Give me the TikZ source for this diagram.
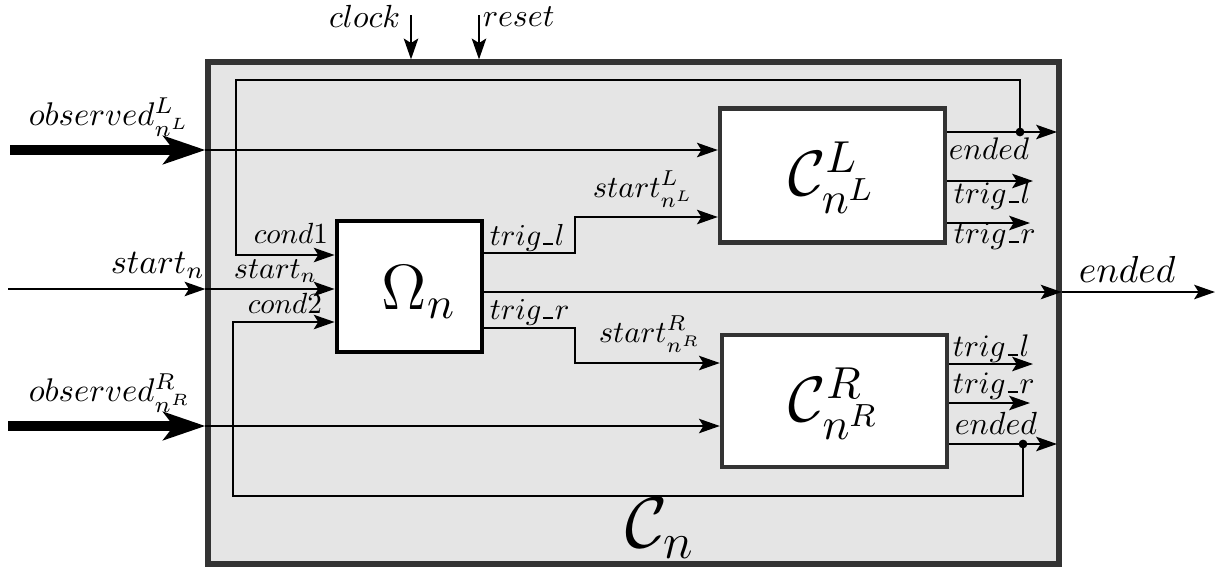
\RequirePackage{fix-cm}
\documentclass[tikz,border=0pt]{standalone}
\usetikzlibrary{arrows.meta}
\definecolor{boxfill}{RGB}{229,229,229}
\definecolor{boxline}{RGB}{51,51,51}
\newcommand{\us}{\mbox{\kern0.06em\rule{0.32em}{0.5pt}\kern0.06em}}
\newcommand{\lb}[2]{\scalebox{#1}{$#2$}}
\begin{document}
\begin{tikzpicture}[x=0.25pt,y=-0.25pt,
  arr/.style={line width=0.55pt,-{Stealth[length=5.2pt,width=3.6pt,inset=1.1pt]}},
  thickarr/.style={line width=2.5pt,-{Stealth[length=10.5pt,width=7pt,inset=2.6pt]}},
  lbl/.style={inner sep=0pt,font=\fontsize{10}{12}\selectfont},
  sub/.style={draw=boxline,line width=1.1pt,fill=white,inner sep=0pt},
  dot/.style={circle,fill=black,inner sep=0pt,minimum size=2.2pt}]
\useasboundingbox (0,0) rectangle (1219,569);
% outer box
\node[draw=boxline,fill=boxfill,line width=1.3pt,minimum width=212.75pt,minimum height=125.5pt,inner sep=0pt] (Cn) at (633.5,313) {};
\node[inner sep=0pt,font=\fontsize{18}{21}\selectfont] (Cnl) at (660,528) {$\mathcal{C}_n$};
% inner boxes
\node[draw=black,line width=1.2pt,fill=white,minimum width=36.25pt,minimum height=32.75pt,inner sep=0pt] (Om) at (409.5,286.5) {};
\node[inner sep=0pt,font=\fontsize{16}{19}\selectfont] (Oml) at (419,292) {$\Omega_n$};
\node[sub,minimum width=56.25pt,minimum height=33.5pt] (CL) at (832.5,175.5) {};
\node[inner sep=0pt,font=\fontsize{16}{19}\selectfont] (CLl) at (832,178) {$\mathcal{C}^L_{n^L}$};
\node[sub,minimum width=56.25pt,minimum height=33pt] (CR) at (834.5,401) {};
\node[inner sep=0pt,font=\fontsize{16}{19}\selectfont] (CRl) at (834,404) {$\mathcal{C}^R_{n^R}$};
% clock / reset
\coordinate (clk) at (411,15);
\coordinate (rst) at (479,15);
\draw[arr] (clk) -- (clk |- Cn.north);
\draw[arr] (rst) -- (rst |- Cn.north);
\node[lbl,anchor=base east] (clkl) at (401,27) {\lb{0.8}{clock}};
\node[lbl,anchor=base west] (rstl) at (482,26) {\lb{0.8}{reset}};
% observed L
\coordinate (oL) at (10,150);
\draw[thickarr] (oL) -- (oL -| Cn.west);
\draw[arr] (oL -| Cn.west) -- (oL -| CL.west);
\node[lbl,anchor=base west] (oLl) at (28,125) {\lb{0.82}{observed^L_{n^L}}};
% observed R
\coordinate (oR) at (8,426);
\draw[thickarr] (oR) -- (oR -| Cn.west);
\draw[arr] (oR -| Cn.west) -- (oR -| CR.west);
\node[lbl,anchor=base west] (oRl) at (28,401) {\lb{0.82}{observed^R_{n^R}}};
% start_n
\coordinate (sn) at (8,289);
\draw[arr] (sn) -- (sn -| Cn.west);
\draw[arr] (sn -| Cn.west) -- (sn -| Om.west);
\node[lbl,anchor=base west] (snl) at (110,273) {\lb{0.86}{start_n}};
\node[lbl,anchor=base west] (snl2) at (233,278) {\lb{0.76}{start_n}};
% Omega outputs
\coordinate (tl1) at (575,253);
\coordinate (tl2) at (575,217);
\draw[arr] (tl1 -| Om.east) -- (tl1) -- (tl2) -- (tl2 -| CL.west);
\coordinate (tr1) at (575,328);
\coordinate (tr2) at (575,363);
\draw[arr] (tr1 -| Om.east) -- (tr1) -- (tr2) -- (tr2 -| CR.west);
\node[lbl,anchor=base west] (tll) at (489,245) {\lb{0.76}{trig\us l}};
\node[lbl,anchor=base west] (trl) at (489,319) {\lb{0.76}{trig\us r}};
\node[lbl,anchor=base west] (sLl) at (592,197) {\lb{0.77}{start^L_{n^L}}};
\node[lbl,anchor=base west] (sRl) at (598,342) {\lb{0.77}{start^R_{n^R}}};
\coordinate (en) at (1215,292);
\draw[arr] (en -| Om.east) -- (en -| Cn.east);
\draw[arr] (en -| Cn.east) -- (en);
\node[lbl,anchor=base west] (enl) at (1078,282) {\lb{0.94}{ended}};
% CL outputs
\coordinate (cLe) at (1057,132);
\coordinate (dL) at (1020,132);
\draw[arr] (cLe -| CL.east) -- (cLe);
\node[dot] (dLn) at (dL) {};
\coordinate (cLtl) at (1033,181);
\coordinate (cLtr) at (1030,223);
\draw[arr] (cLtl -| CL.east) -- (cLtl);
\draw[arr] (cLtr -| CL.east) -- (cLtr);
\node[lbl,anchor=base west] (cLel) at (948,159) {\lb{0.78}{ended}};
\node[lbl,anchor=base west] (cLtll) at (953,203) {\lb{0.78}{trig\us l}};
\node[lbl,anchor=base west] (cLtrl) at (953,243) {\lb{0.78}{trig\us r}};
% CR outputs
\coordinate (cRtl) at (1033,364);
\coordinate (cRtr) at (1030,403);
\coordinate (cRe) at (1057,444);
\coordinate (dR) at (1023,444);
\draw[arr] (cRtl -| CR.east) -- (cRtl);
\draw[arr] (cRtr -| CR.east) -- (cRtr);
\draw[arr] (cRe -| CR.east) -- (cRe);
\node[dot] (dRn) at (dR) {};
\node[lbl,anchor=base west] (cRtll) at (952,356) {\lb{0.78}{trig\us l}};
\node[lbl,anchor=base west] (cRtrl) at (952,393) {\lb{0.78}{trig\us r}};
\node[lbl,anchor=base west] (cRel) at (954,434) {\lb{0.8}{ended}};
% feedback loops
\coordinate (fL1) at (1020,80);
\coordinate (fL2) at (236,80);
\coordinate (fL3) at (236,255);
\draw[arr] (dLn.center) -- (fL1) -- (fL2) -- (fL3) -- (fL3 -| Om.west);
\node[lbl,anchor=base west] (c1l) at (253,243) {\lb{0.73}{cond1}};
\coordinate (fR1) at (1023,496);
\coordinate (fR2) at (233,496);
\coordinate (fR3) at (233,322);
\draw[arr] (dRn.center) -- (fR1) -- (fR2) -- (fR3) -- (fR3 -| Om.west);
\node[lbl,anchor=base west] (c2l) at (247,313) {\lb{0.73}{cond2}};
\end{tikzpicture}
\end{document}
